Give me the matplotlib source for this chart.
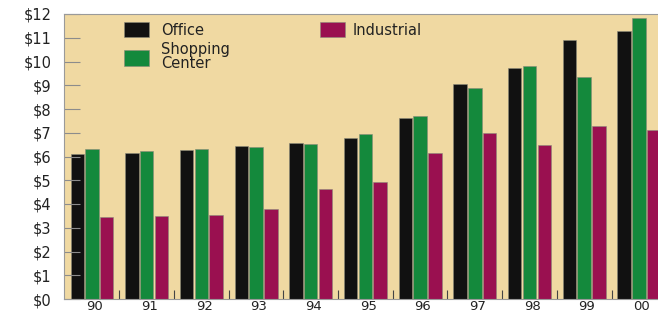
import numpy as np
import matplotlib
matplotlib.use("Agg")
import matplotlib.pyplot as plt
from matplotlib.ticker import FixedLocator

years = ["90", "91", "92", "93", "94", "95", "96", "97", "98", "99", "00"]
office = [6.09, 6.16, 6.26, 6.43, 6.58, 6.79, 7.62, 9.06, 9.73, 10.91, 11.29]
shopping = [6.32, 6.23, 6.30, 6.39, 6.54, 6.96, 7.72, 8.87, 9.83, 9.36, 11.82]
industrial = [3.46, 3.50, 3.54, 3.77, 4.63, 4.92, 6.15, 6.97, 6.50, 7.27, 7.13]
y_ticks = list(range(0, 13))
y_labels = ["$" + str(v) for v in y_ticks]

plt.rcParams["font.family"] = ["DejaVu Sans"]

fig = plt.figure(figsize=(6.58, 3.13), dpi=100)
fig.patch.set_facecolor("white")
ax = fig.add_axes([64 / 658, 14 / 313, 594 / 658, 285 / 313])
ax.set_facecolor("#f0d9a2")

x = np.arange(len(years))
w = 0.245
step = 0.27
ax.bar(x - step, office, w, color="#111111", edgecolor="#8a8a7a", linewidth=0.4, label="Office")
ax.bar(x, shopping, w, color="#14893c", edgecolor="#8a8a7a", linewidth=0.4, label="Shopping\nCenter")
ax.bar(x + step, industrial, w, color="#9a1050", edgecolor="#8a8a7a", linewidth=0.4, label="Industrial")

ax.set_xlim(-0.512, 10.35)
ax.set_ylim(0, 12)

ax.set_yticks(y_ticks)
ax.set_yticklabels(y_labels, fontsize=10.5, color="#222222")
ax.tick_params(axis="y", direction="in", length=11.5, width=0.8, color="#8c8c8c", pad=9)

ax.set_xticks(x + 0.05)
ax.set_xticklabels(years, fontsize=9.5, color="#222222")
ax.tick_params(axis="x", which="major", length=0, pad=0.5)
ax.xaxis.set_minor_locator(FixedLocator(x[:-1] + 0.5))
ax.tick_params(axis="x", which="minor", direction="in", length=6.5, width=0.8, color="#444444")

for s in ["left", "top", "bottom"]:
    ax.spines[s].set_color("#9a9a9a")
    ax.spines[s].set_linewidth(0.8)
ax.spines["right"].set_visible(False)

h, l = ax.get_legend_handles_labels()
leg1 = ax.legend(h[:2], l[:2], loc="upper left", bbox_to_anchor=(0.088, 1.0),
                 frameon=False, fontsize=10.5, handlelength=1.7, handleheight=1.25,
                 handletextpad=0.8, labelspacing=0.3, borderaxespad=0.15)
for t in leg1.get_texts():
    t.set_color("#222222")
    t.set_linespacing(0.95)
ax.add_artist(leg1)
leg2 = ax.legend(h[2:], l[2:], loc="upper left", bbox_to_anchor=(0.418, 1.0),
                 frameon=False, fontsize=10.5, handlelength=1.7, handleheight=1.25,
                 handletextpad=0.5, borderaxespad=0.15)
for t in leg2.get_texts():
    t.set_color("#222222")

fig.savefig("out.png", dpi=100)
